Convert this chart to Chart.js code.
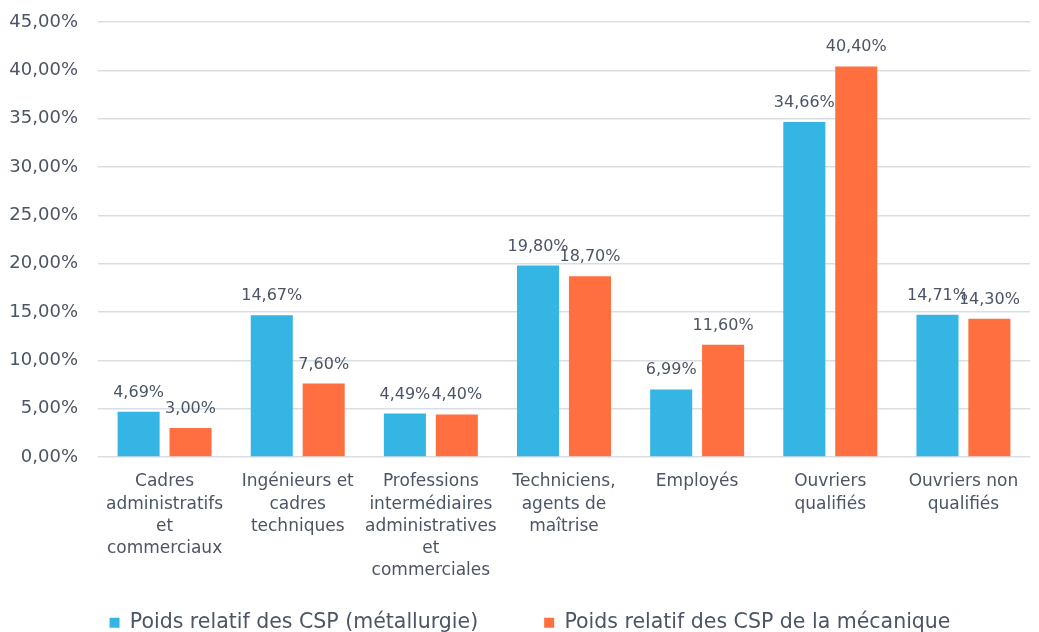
<!DOCTYPE html>
<html>
<head>
<meta charset="utf-8">
<script src="https://cdn.jsdelivr.net/npm/chart.js@4/dist/chart.umd.min.js"></script>
<style>
html,body{margin:0;padding:0;background:#fff;}
#wrap{width:1039px;height:632px;position:relative;}
</style>
</head>
<body>
<div id="wrap"><canvas id="c" width="1039" height="632"></canvas></div>
<script>
const categories = [
  ["Cadres", "administratifs", "et", "commerciaux"],
  ["Ingénieurs et", "cadres", "techniques"],
  ["Professions", "intermédiaires", "administratives", "et", "commerciales"],
  ["Techniciens,", "agents de", "maîtrise"],
  ["Employés"],
  ["Ouvriers", "qualifiés"],
  ["Ouvriers non", "qualifiés"]
];
const seriesNames = ["Poids relatif des CSP (métallurgie)", "Poids relatif des CSP de la mécanique"];
const metallurgie = [4.69, 14.67, 4.49, 19.80, 6.99, 34.66, 14.71];
const mecanique = [3.00, 7.60, 4.40, 18.70, 11.60, 40.40, 14.30];
const yMax = 45;
const yStep = 5;

const FONT = "'DejaVu Sans', sans-serif";
const TXT = "#4b5566";
function fmt(v){ return v.toFixed(2).replace('.', ',') + '%'; }

const labelPlugin = {
  id: 'barLabels',
  afterLayout(chart){
    if (chart.legend) { chart.legend.left += 28; }
  },
  afterDatasetsDraw(chart){
    const ctx = chart.ctx;
    ctx.save();
    ctx.font = "16px " + FONT;
    ctx.fillStyle = TXT;
    ctx.textAlign = 'center';
    ctx.textBaseline = 'alphabetic';
    chart.data.datasets.forEach((ds, i) => {
      chart.getDatasetMeta(i).data.forEach((bar, j) => {
        ctx.fillText(fmt(ds.data[j]), bar.x, bar.y - 15);
      });
    });
    ctx.restore();
  }
};

new Chart(document.getElementById('c'), {
  type: 'bar',
  data: {
    labels: categories,
    datasets: [
      { label: seriesNames[0], data: metallurgie, backgroundColor: '#35b5e3', categoryPercentage: 0.78, barPercentage: 0.81 },
      { label: seriesNames[1], data: mecanique, backgroundColor: '#ff6f40', categoryPercentage: 0.78, barPercentage: 0.81 }
    ]
  },
  options: {
    responsive: false,
    animation: false,
    layout: { padding: { left: 2, right: 9, top: 22, bottom: -11 } },
    plugins: {
      legend: {
        position: 'bottom',
        labels: {
          font: { family: FONT, size: 20.5 }, color: TXT, boxWidth: 10, boxHeight: 10, padding: 25,
          generateLabels(chart){
            const items = Chart.defaults.plugins.legend.labels.generateLabels(chart);
            items[0].text = items[0].text + '\u2003\u2003';
            return items;
          }
        }
      },
      tooltip: { enabled: false }
    },
    scales: {
      x: {
        grid: { display: false },
        border: { display: false },
        ticks: { font: { family: FONT, size: 17, lineHeight: 1.3 }, color: TXT, maxRotation: 0, autoSkip: false, padding: 6 }
      },
      y: {
        min: 0, max: yMax,
        border: { display: false },
        grid: { color: '#d9dee5', lineWidth: 1.5, drawTicks: false },
        ticks: { stepSize: yStep, font: { family: FONT, size: 18 }, color: TXT, padding: 20, callback: v => fmt(v) },
        afterFit(scale){ scale.width = 96; scale.paddingTop = 0; scale.paddingBottom = 0; }
      }
    }
  },
  plugins: [labelPlugin]
});
</script>
</body>
</html>
